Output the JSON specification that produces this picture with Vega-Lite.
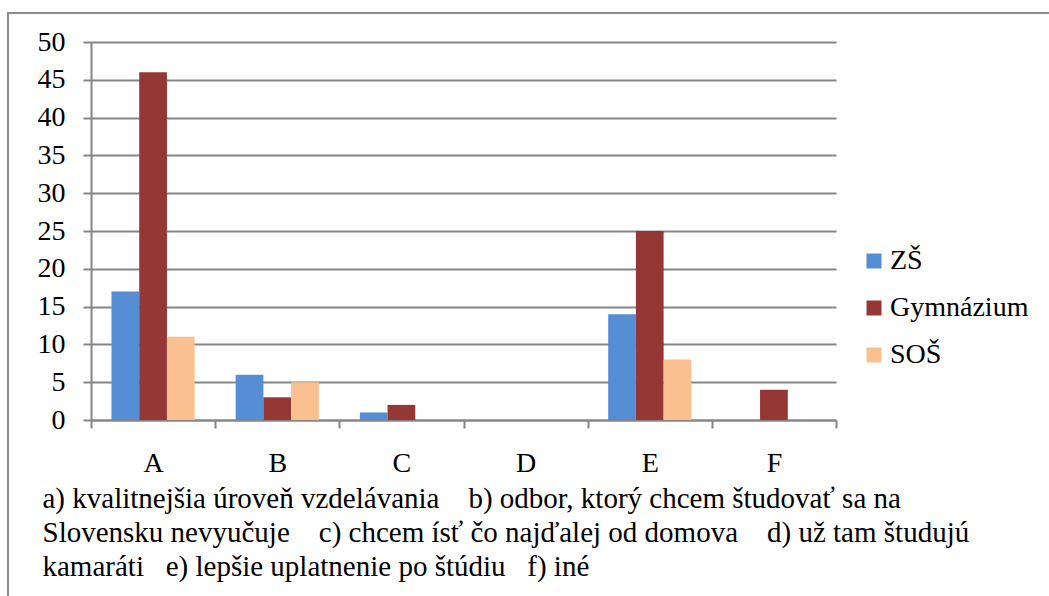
{
  "$schema": "https://vega.github.io/schema/vega-lite/v6.json",
  "autosize": "none",
  "width": 745,
  "height": 378,
  "padding": {"left": 91, "top": 42, "right": 213, "bottom": 176},
  "background": "white",
  "config": {
    "font": "Liberation Serif",
    "view": {"stroke": null}
  },
  "data": {
    "values": [
      {"cat": "A", "series": "ZŠ", "value": 17},
      {"cat": "A", "series": "Gymnázium", "value": 46},
      {"cat": "A", "series": "SOŠ", "value": 11},
      {"cat": "B", "series": "ZŠ", "value": 6},
      {"cat": "B", "series": "Gymnázium", "value": 3},
      {"cat": "B", "series": "SOŠ", "value": 5},
      {"cat": "C", "series": "ZŠ", "value": 1},
      {"cat": "C", "series": "Gymnázium", "value": 2},
      {"cat": "C", "series": "SOŠ", "value": 0},
      {"cat": "D", "series": "ZŠ", "value": 0},
      {"cat": "D", "series": "Gymnázium", "value": 0},
      {"cat": "D", "series": "SOŠ", "value": 0},
      {"cat": "E", "series": "ZŠ", "value": 14},
      {"cat": "E", "series": "Gymnázium", "value": 25},
      {"cat": "E", "series": "SOŠ", "value": 8},
      {"cat": "F", "series": "ZŠ", "value": 0},
      {"cat": "F", "series": "Gymnázium", "value": 4},
      {"cat": "F", "series": "SOŠ", "value": 0}
    ]
  },
  "layer": [
    {
      "mark": {"type": "rect", "fill": null, "stroke": "#8c8c8c", "strokeWidth": 2, "clip": false},
      "encoding": {
        "x": {"value": -83},
        "y": {"value": -29},
        "x2": {"value": 1000},
        "y2": {"value": 600}
      }
    },
    {
      "mark": {"type": "bar"},
      "encoding": {
        "x": {
          "field": "cat",
          "type": "nominal",
          "scale": {"paddingInner": 0, "paddingOuter": 0},
          "axis": {
            "title": [
              "a) kvalitnejšia úroveň vzdelávania\u00a0\u00a0\u00a0\u00a0b) odbor, ktorý chcem študovať sa na",
              "Slovensku nevyučuje\u00a0\u00a0\u00a0\u00a0c) chcem ísť čo najďalej od domova\u00a0\u00a0\u00a0\u00a0d) už tam študujú",
              "kamaráti\u00a0\u00a0\u00a0e) lepšie uplatnenie po štúdiu\u00a0\u00a0\u00a0f) iné"
            ],
            "titleFont": "Liberation Serif",
            "titleFontSize": 29,
            "titleFontWeight": "normal",
            "titleColor": "#000000",
            "titleLineHeight": 34,
            "titleAlign": "left",
            "titleAnchor": "start",
            "titleBaseline": "alphabetic",
            "titleX": -49,
            "titleY": 87,
            "labelFont": "Liberation Serif",
            "labelFontSize": 28,
            "labelColor": "#000000",
            "labelAngle": 0,
            "tickBand": "extent",
            "domainColor": "#868686",
            "domainWidth": 2,
            "tickColor": "#868686",
            "tickWidth": 2,
            "tickSize": 8,
            "labelPadding": 21,
            "grid": false
          }
        },
        "xOffset": {
          "field": "series",
          "type": "nominal",
          "sort": ["ZŠ", "Gymnázium", "SOŠ"],
          "scale": {"paddingInner": 0, "paddingOuter": 0.74}
        },
        "y": {
          "field": "value",
          "type": "quantitative",
          "scale": {"domain": [0, 50], "nice": false},
          "axis": {
            "title": null,
            "values": [0, 5, 10, 15, 20, 25, 30, 35, 40, 45, 50],
            "labelFont": "Liberation Serif",
            "labelFontSize": 28,
            "labelColor": "#000000",
            "grid": true,
            "gridColor": "#868686",
            "gridWidth": 2,
            "domainColor": "#868686",
            "domainWidth": 2,
            "tickColor": "#868686",
            "tickWidth": 2,
            "tickSize": 8,
            "labelPadding": 18
          }
        },
        "color": {
          "field": "series",
          "type": "nominal",
          "scale": {"domain": ["ZŠ", "Gymnázium", "SOŠ"], "range": ["#558ED5", "#953735", "#FAC090"]},
          "legend": {
            "title": null,
            "orient": "none",
            "legendX": 769,
            "legendY": 205,
            "symbolType": "square",
            "symbolSize": 225,
            "symbolStrokeWidth": 0,
            "labelFont": "Liberation Serif",
            "labelFontSize": 28,
            "labelColor": "#000000",
            "labelOffset": 2,
            "rowPadding": 19
          }
        }
      }
    }
  ]
}
